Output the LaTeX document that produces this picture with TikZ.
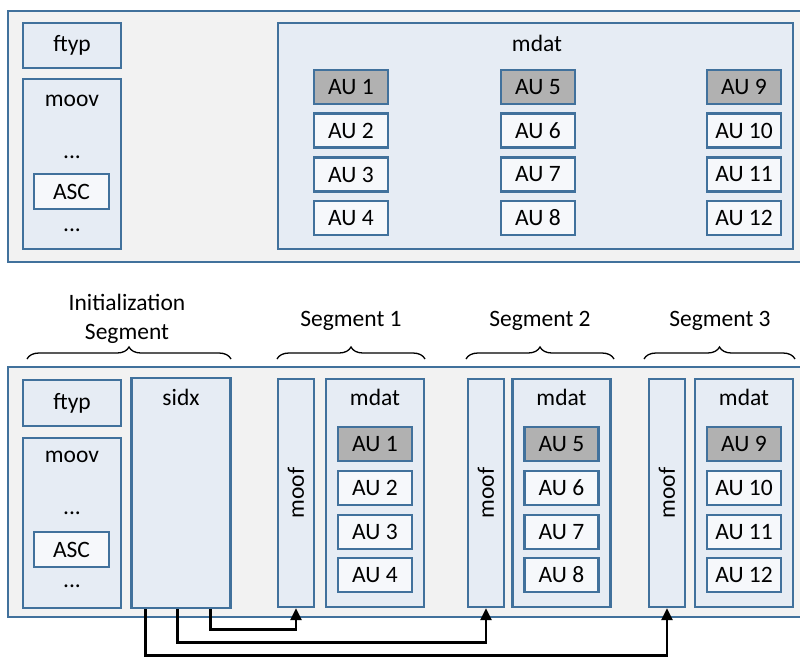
\documentclass[tikz,border=0pt]{standalone}
\usepackage{fontspec}
\setmainfont{Carlito}
\usetikzlibrary{calc,arrows.meta,decorations.pathreplacing}
\definecolor{edge}{HTML}{41719C}
\definecolor{outerfill}{HTML}{F2F2F2}
\definecolor{boxfill}{HTML}{E6ECF4}
\definecolor{aufill}{HTML}{F6F8FB}
\definecolor{keyfill}{HTML}{B1B1B1}
\begin{document}
\begin{tikzpicture}[x=1pt,y=-1pt,
  every node/.style={font=\fontsize{23.5}{29}\selectfont, inner sep=0pt},
  outerbox/.style={draw=edge, line width=2.3pt, fill=outerfill},
  boxb/.style={draw=edge, line width=2.3pt, fill=boxfill},
  au/.style={draw=edge, line width=2.3pt, fill=aufill, minimum width=74pt, minimum height=34pt},
  keyau/.style={au, fill=keyfill},
  lbl/.style={anchor=base},
  moofbox/.style={boxb, minimum width=36pt, minimum height=228pt},
  mdatbox/.style={boxb, minimum width=98pt, minimum height=228pt},
  brc/.style={draw=black, line width=1.3pt, decorate, decoration={brace, amplitude=12pt}},
  arr/.style={draw=black, line width=2.8pt, -{Triangle[length=12pt,width=11pt]}}]
\useasboundingbox (0,0) rectangle (800,657);
\clip (0,0) rectangle (800,657);
\fill[white] (0,0) rectangle (800,657);

% ---------- plain MP4 file ----------
\node[outerbox, minimum width=798pt, minimum height=251pt] (fileT) at (407,136.5) {};
\node[boxb, minimum width=98pt, minimum height=45pt] (ftypT) at (72,45.5) {ftyp};
\node[boxb, minimum width=98pt, minimum height=170pt] (moovT) at (72,164) {};
\node[lbl] (moovTl) at (72,106) {moov};
\node[lbl] (dotsT1) at (72,158) {...};
\node[au, minimum width=75pt, minimum height=35pt] (ascT) at (71.5,191.5) {ASC};
\node[lbl] (dotsT2) at (72,231) {...};
\node[boxb, minimum width=515pt, minimum height=226pt] (mdatT) at (535.5,136) {};
\node[lbl] (mdatTl) at (537,51) {mdat};
\node[keyau] (t1) at (351,87) {AU 1};
\node[au] (t2) at (351,130.5) {AU 2};
\node[au] (t3) at (351,174.5) {AU 3};
\node[au] (t4) at (351,218) {AU 4};
\node[keyau] (t5) at (538,87) {AU 5};
\node[au] (t6) at (538,130.5) {AU 6};
\node[au] (t7) at (538,174.5) {AU 7};
\node[au] (t8) at (538,218) {AU 8};
\node[keyau] (t9) at (744,87) {AU 9};
\node[au] (t10) at (744,130.5) {AU 10};
\node[au] (t11) at (744,174.5) {AU 11};
\node[au] (t12) at (744,218) {AU 12};

% ---------- segment labels and braces ----------
\node[lbl, align=center] (initl) at (127,339) {Initialization\\Segment};
\node[lbl] (seg1l) at (351,326) {Segment 1};
\node[lbl] (seg2l) at (540,326) {Segment 2};
\node[lbl] (seg3l) at (720,326) {Segment 3};
\draw[brc] (27,359) -- (231,359);
\draw[brc] (277,359) -- (425,359);
\draw[brc] (466,359) -- (614,359);
\draw[brc] (644,359) -- (795,359);

% ---------- segmented file ----------
\node[outerbox, minimum width=798pt, minimum height=250pt] (fileB) at (407,492) {};
\node[boxb, minimum width=98pt, minimum height=46pt] (ftypB) at (72,403) {ftyp};
\node[boxb, minimum width=98pt, minimum height=170pt] (moovB) at (72,523) {};
\node[lbl] (moovBl) at (72,462) {moov};
\node[lbl] (dotsB1) at (72,514) {...};
\node[au, minimum width=75pt, minimum height=35pt] (ascB) at (71.5,549.5) {ASC};
\node[lbl] (dotsB2) at (72,587) {...};
\node[boxb, minimum width=99pt, minimum height=230pt] (sidx) at (181,493) {};
\node[lbl] (sidxl) at (181,405) {sidx};

\node[moofbox] (moofA) at (296,493) {\rotatebox{90}{moof}};
\node[mdatbox] (mdatA) at (375,493) {};
\node[lbl] (mdatAl) at (375,405) {mdat};
\node[keyau] (b1) at (375,444) {AU 1};
\node[au] (b2) at (375,488) {AU 2};
\node[au] (b3) at (375,532) {AU 3};
\node[au] (b4) at (375,575) {AU 4};

\node[moofbox] (moofB) at (486,493) {\rotatebox{90}{moof}};
\node[mdatbox] (mdatB) at (561.5,493) {};
\node[lbl] (mdatBl) at (561.5,405) {mdat};
\node[keyau] (b5) at (561.5,444) {AU 5};
\node[au] (b6) at (561.5,488) {AU 6};
\node[au] (b7) at (561.5,532) {AU 7};
\node[au] (b8) at (561.5,575) {AU 8};

\node[moofbox] (moofC) at (667,493) {\rotatebox{90}{moof}};
\node[mdatbox] (mdatC) at (744,493) {};
\node[lbl] (mdatCl) at (744,405) {mdat};
\node[keyau] (b9) at (744,444) {AU 9};
\node[au] (b10) at (744,488) {AU 10};
\node[au] (b11) at (744,532) {AU 11};
\node[au] (b12) at (744,575) {AU 12};

% ---------- sidx references to each moof ----------
\draw[arr] ($(sidx.south west)+(80,0)$) |- ($(moofA.south)+(0,21)$) -- (moofA.south);
\draw[arr] ($(sidx.south west)+(47,0)$) |- ($(moofB.south)+(0,34)$) -- (moofB.south);
\draw[arr] ($(sidx.south west)+(15,0)$) |- ($(moofC.south)+(0,47)$) -- (moofC.south);
\end{tikzpicture}
\end{document}
